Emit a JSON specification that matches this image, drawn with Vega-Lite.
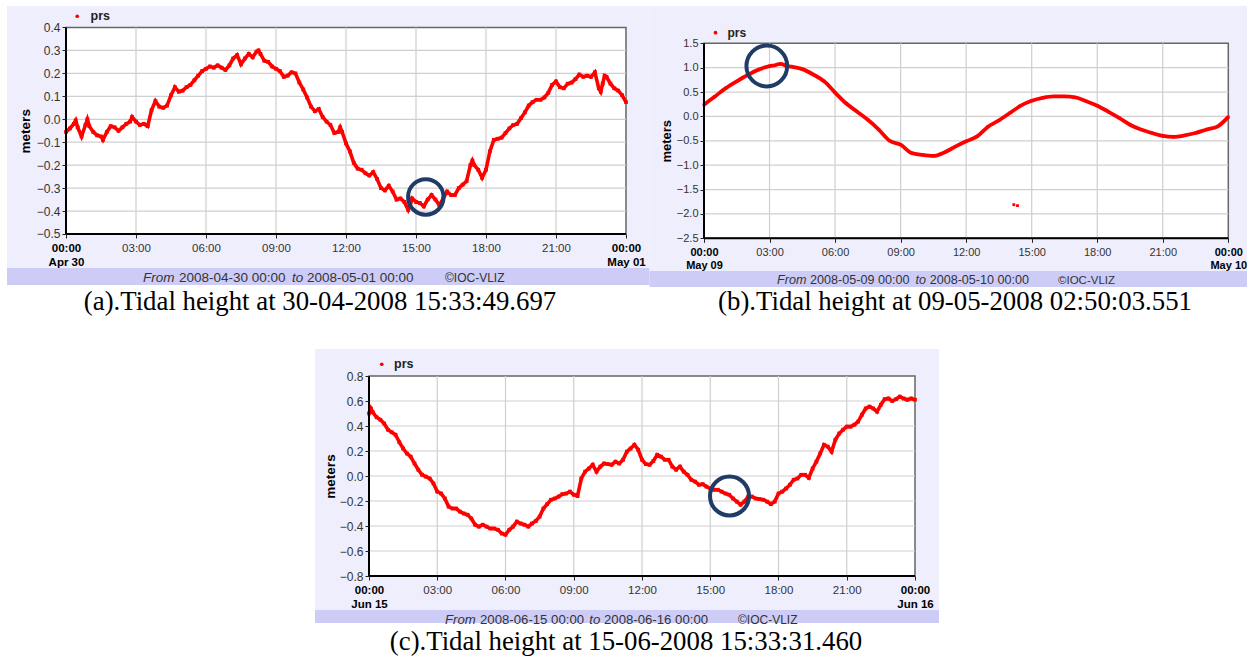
{
"$schema": "https://vega.github.io/schema/vega-lite/v6.json",
"width": 1253, "height": 659, "autosize": {"type": "none"}, "padding": 0, "background": "#ffffff",
"config": {"view": {"stroke": null}, "font": "Liberation Sans",
  "axis": {"labelFont": "Liberation Sans", "titleFont": "Liberation Sans", "tickColor": "#222222", "tickWidth": 1, "labelColor": "#333333", "domain": false, "grid": false, "labelOverlap": false, "labelFlush": false, "labelBound": false},
  "legend": {"labelFont": "Liberation Sans"}},
"datasets": {
 "xg": [{"g":180},{"g":360},{"g":540},{"g":720},{"g":900},{"g":1080},{"g":1260}],
 "ygA": [{"g":-0.4},{"g":-0.3},{"g":-0.2},{"g":-0.1},{"g":0},{"g":0.1},{"g":0.2},{"g":0.3}],
 "ygB": [{"g":-2},{"g":-1.5},{"g":-1},{"g":-0.5},{"g":0},{"g":0.5},{"g":1}],
 "ygC": [{"g":-0.6},{"g":-0.4},{"g":-0.2},{"g":0},{"g":0.2},{"g":0.4},{"g":0.6}],
 "a": [{"minute":0,"meters":-0.055},{"minute":10,"meters":-0.04},{"minute":20,"meters":-0.02},{"minute":25,"meters":-0.005},{"minute":30,"meters":-0.035},{"minute":40,"meters":-0.075},{"minute":50,"meters":-0.025},{"minute":55,"meters":0.0},{"minute":60,"meters":-0.03},{"minute":70,"meters":-0.055},{"minute":80,"meters":-0.07},{"minute":90,"meters":-0.075},{"minute":95,"meters":-0.09},{"minute":105,"meters":-0.055},{"minute":115,"meters":-0.03},{"minute":125,"meters":-0.035},{"minute":135,"meters":-0.05},{"minute":145,"meters":-0.035},{"minute":155,"meters":-0.02},{"minute":165,"meters":-0.01},{"minute":170,"meters":0.01},{"minute":180,"meters":-0.01},{"minute":190,"meters":-0.025},{"minute":200,"meters":-0.02},{"minute":210,"meters":-0.03},{"minute":220,"meters":0.04},{"minute":230,"meters":0.08},{"minute":240,"meters":0.055},{"minute":250,"meters":0.05},{"minute":260,"meters":0.06},{"minute":270,"meters":0.105},{"minute":280,"meters":0.14},{"minute":290,"meters":0.12},{"minute":300,"meters":0.125},{"minute":310,"meters":0.14},{"minute":320,"meters":0.15},{"minute":330,"meters":0.17},{"minute":340,"meters":0.19},{"minute":350,"meters":0.21},{"minute":360,"meters":0.22},{"minute":370,"meters":0.23},{"minute":380,"meters":0.225},{"minute":390,"meters":0.235},{"minute":400,"meters":0.225},{"minute":410,"meters":0.215},{"minute":420,"meters":0.235},{"minute":430,"meters":0.265},{"minute":440,"meters":0.28},{"minute":450,"meters":0.24},{"minute":460,"meters":0.265},{"minute":470,"meters":0.285},{"minute":480,"meters":0.27},{"minute":490,"meters":0.295},{"minute":495,"meters":0.3},{"minute":500,"meters":0.285},{"minute":510,"meters":0.255},{"minute":520,"meters":0.25},{"minute":530,"meters":0.23},{"minute":540,"meters":0.22},{"minute":550,"meters":0.21},{"minute":560,"meters":0.185},{"minute":570,"meters":0.19},{"minute":580,"meters":0.205},{"minute":590,"meters":0.2},{"minute":600,"meters":0.16},{"minute":610,"meters":0.13},{"minute":620,"meters":0.095},{"minute":630,"meters":0.055},{"minute":640,"meters":0.035},{"minute":650,"meters":0.045},{"minute":660,"meters":0.01},{"minute":670,"meters":-0.01},{"minute":680,"meters":-0.025},{"minute":690,"meters":-0.06},{"minute":700,"meters":-0.055},{"minute":705,"meters":-0.035},{"minute":710,"meters":-0.055},{"minute":720,"meters":-0.105},{"minute":730,"meters":-0.14},{"minute":740,"meters":-0.19},{"minute":750,"meters":-0.215},{"minute":760,"meters":-0.22},{"minute":770,"meters":-0.235},{"minute":780,"meters":-0.245},{"minute":790,"meters":-0.23},{"minute":800,"meters":-0.26},{"minute":810,"meters":-0.3},{"minute":820,"meters":-0.31},{"minute":830,"meters":-0.29},{"minute":840,"meters":-0.315},{"minute":850,"meters":-0.35},{"minute":860,"meters":-0.345},{"minute":870,"meters":-0.36},{"minute":880,"meters":-0.395},{"minute":885,"meters":-0.375},{"minute":890,"meters":-0.345},{"minute":900,"meters":-0.36},{"minute":910,"meters":-0.365},{"minute":920,"meters":-0.38},{"minute":930,"meters":-0.35},{"minute":940,"meters":-0.33},{"minute":950,"meters":-0.35},{"minute":960,"meters":-0.375},{"minute":970,"meters":-0.345},{"minute":980,"meters":-0.315},{"minute":990,"meters":-0.33},{"minute":1000,"meters":-0.33},{"minute":1010,"meters":-0.3},{"minute":1020,"meters":-0.285},{"minute":1030,"meters":-0.27},{"minute":1040,"meters":-0.2},{"minute":1045,"meters":-0.18},{"minute":1050,"meters":-0.2},{"minute":1060,"meters":-0.22},{"minute":1070,"meters":-0.255},{"minute":1080,"meters":-0.22},{"minute":1090,"meters":-0.14},{"minute":1100,"meters":-0.09},{"minute":1110,"meters":-0.085},{"minute":1120,"meters":-0.08},{"minute":1130,"meters":-0.06},{"minute":1140,"meters":-0.04},{"minute":1150,"meters":-0.025},{"minute":1160,"meters":-0.02},{"minute":1170,"meters":0.005},{"minute":1180,"meters":0.03},{"minute":1190,"meters":0.06},{"minute":1200,"meters":0.075},{"minute":1210,"meters":0.085},{"minute":1220,"meters":0.085},{"minute":1230,"meters":0.095},{"minute":1240,"meters":0.115},{"minute":1250,"meters":0.15},{"minute":1260,"meters":0.165},{"minute":1270,"meters":0.14},{"minute":1280,"meters":0.135},{"minute":1290,"meters":0.155},{"minute":1300,"meters":0.16},{"minute":1310,"meters":0.175},{"minute":1320,"meters":0.195},{"minute":1330,"meters":0.185},{"minute":1340,"meters":0.19},{"minute":1350,"meters":0.185},{"minute":1360,"meters":0.205},{"minute":1370,"meters":0.135},{"minute":1375,"meters":0.12},{"minute":1380,"meters":0.155},{"minute":1385,"meters":0.19},{"minute":1390,"meters":0.185},{"minute":1400,"meters":0.155},{"minute":1410,"meters":0.135},{"minute":1420,"meters":0.125},{"minute":1430,"meters":0.105},{"minute":1440,"meters":0.075}],
 "b": [{"minute":0,"meters":0.24},{"minute":30,"meters":0.41},{"minute":60,"meters":0.58},{"minute":90,"meters":0.72},{"minute":120,"meters":0.85},{"minute":150,"meters":0.96},{"minute":180,"meters":1.03},{"minute":195,"meters":1.05},{"minute":210,"meters":1.08},{"minute":225,"meters":1.04},{"minute":240,"meters":1.02},{"minute":270,"meters":0.97},{"minute":300,"meters":0.86},{"minute":330,"meters":0.72},{"minute":360,"meters":0.49},{"minute":390,"meters":0.27},{"minute":420,"meters":0.1},{"minute":450,"meters":-0.07},{"minute":480,"meters":-0.27},{"minute":510,"meters":-0.5},{"minute":540,"meters":-0.58},{"minute":570,"meters":-0.75},{"minute":600,"meters":-0.79},{"minute":630,"meters":-0.81},{"minute":660,"meters":-0.74},{"minute":690,"meters":-0.62},{"minute":720,"meters":-0.51},{"minute":750,"meters":-0.41},{"minute":780,"meters":-0.21},{"minute":810,"meters":-0.08},{"minute":840,"meters":0.07},{"minute":870,"meters":0.22},{"minute":900,"meters":0.32},{"minute":930,"meters":0.38},{"minute":960,"meters":0.41},{"minute":990,"meters":0.41},{"minute":1020,"meters":0.39},{"minute":1050,"meters":0.31},{"minute":1080,"meters":0.22},{"minute":1110,"meters":0.1},{"minute":1140,"meters":-0.03},{"minute":1170,"meters":-0.17},{"minute":1200,"meters":-0.27},{"minute":1230,"meters":-0.34},{"minute":1260,"meters":-0.4},{"minute":1290,"meters":-0.42},{"minute":1320,"meters":-0.39},{"minute":1350,"meters":-0.34},{"minute":1380,"meters":-0.27},{"minute":1410,"meters":-0.21},{"minute":1440,"meters":-0.01}],
 "bOut": [{"minute":851,"meters":-1.81},{"minute":861,"meters":-1.83}],
 "c": [{"minute":0,"meters":0.5},{"minute":5,"meters":0.54},{"minute":10,"meters":0.51},{"minute":20,"meters":0.47},{"minute":30,"meters":0.45},{"minute":40,"meters":0.42},{"minute":50,"meters":0.37},{"minute":60,"meters":0.35},{"minute":70,"meters":0.33},{"minute":80,"meters":0.27},{"minute":90,"meters":0.22},{"minute":100,"meters":0.18},{"minute":110,"meters":0.155},{"minute":120,"meters":0.1},{"minute":130,"meters":0.05},{"minute":140,"meters":0.01},{"minute":150,"meters":-0.005},{"minute":160,"meters":-0.02},{"minute":170,"meters":-0.06},{"minute":180,"meters":-0.125},{"minute":190,"meters":-0.14},{"minute":200,"meters":-0.18},{"minute":210,"meters":-0.245},{"minute":220,"meters":-0.26},{"minute":230,"meters":-0.26},{"minute":240,"meters":-0.285},{"minute":250,"meters":-0.3},{"minute":260,"meters":-0.31},{"minute":270,"meters":-0.34},{"minute":280,"meters":-0.39},{"minute":290,"meters":-0.405},{"minute":300,"meters":-0.39},{"minute":310,"meters":-0.405},{"minute":320,"meters":-0.42},{"minute":330,"meters":-0.42},{"minute":340,"meters":-0.43},{"minute":350,"meters":-0.46},{"minute":360,"meters":-0.47},{"minute":370,"meters":-0.43},{"minute":380,"meters":-0.405},{"minute":390,"meters":-0.365},{"minute":400,"meters":-0.38},{"minute":410,"meters":-0.39},{"minute":420,"meters":-0.405},{"minute":430,"meters":-0.38},{"minute":440,"meters":-0.36},{"minute":450,"meters":-0.325},{"minute":460,"meters":-0.26},{"minute":470,"meters":-0.225},{"minute":480,"meters":-0.19},{"minute":490,"meters":-0.18},{"minute":500,"meters":-0.165},{"minute":510,"meters":-0.145},{"minute":520,"meters":-0.14},{"minute":530,"meters":-0.125},{"minute":540,"meters":-0.15},{"minute":550,"meters":-0.16},{"minute":560,"meters":-0.02},{"minute":570,"meters":0.035},{"minute":580,"meters":0.06},{"minute":590,"meters":0.09},{"minute":600,"meters":0.035},{"minute":610,"meters":0.075},{"minute":620,"meters":0.1},{"minute":630,"meters":0.095},{"minute":640,"meters":0.09},{"minute":650,"meters":0.115},{"minute":660,"meters":0.1},{"minute":670,"meters":0.13},{"minute":680,"meters":0.195},{"minute":690,"meters":0.22},{"minute":700,"meters":0.25},{"minute":710,"meters":0.21},{"minute":720,"meters":0.13},{"minute":730,"meters":0.095},{"minute":740,"meters":0.09},{"minute":750,"meters":0.12},{"minute":760,"meters":0.17},{"minute":770,"meters":0.155},{"minute":780,"meters":0.13},{"minute":790,"meters":0.13},{"minute":800,"meters":0.075},{"minute":810,"meters":0.05},{"minute":820,"meters":0.075},{"minute":830,"meters":0.035},{"minute":840,"meters":0.01},{"minute":850,"meters":-0.03},{"minute":860,"meters":-0.045},{"minute":870,"meters":-0.07},{"minute":880,"meters":-0.065},{"minute":890,"meters":-0.085},{"minute":900,"meters":-0.1},{"minute":910,"meters":-0.11},{"minute":920,"meters":-0.11},{"minute":930,"meters":-0.125},{"minute":940,"meters":-0.14},{"minute":950,"meters":-0.15},{"minute":960,"meters":-0.18},{"minute":970,"meters":-0.205},{"minute":980,"meters":-0.23},{"minute":990,"meters":-0.205},{"minute":1000,"meters":-0.165},{"minute":1010,"meters":-0.165},{"minute":1020,"meters":-0.18},{"minute":1030,"meters":-0.185},{"minute":1040,"meters":-0.19},{"minute":1050,"meters":-0.205},{"minute":1060,"meters":-0.225},{"minute":1070,"meters":-0.205},{"minute":1080,"meters":-0.14},{"minute":1090,"meters":-0.125},{"minute":1100,"meters":-0.1},{"minute":1110,"meters":-0.07},{"minute":1120,"meters":-0.03},{"minute":1130,"meters":-0.02},{"minute":1140,"meters":0.01},{"minute":1150,"meters":0.01},{"minute":1160,"meters":-0.015},{"minute":1170,"meters":0.06},{"minute":1180,"meters":0.115},{"minute":1190,"meters":0.18},{"minute":1200,"meters":0.25},{"minute":1210,"meters":0.235},{"minute":1220,"meters":0.195},{"minute":1230,"meters":0.29},{"minute":1240,"meters":0.34},{"minute":1250,"meters":0.37},{"minute":1260,"meters":0.395},{"minute":1270,"meters":0.395},{"minute":1280,"meters":0.41},{"minute":1290,"meters":0.435},{"minute":1300,"meters":0.49},{"minute":1310,"meters":0.54},{"minute":1320,"meters":0.555},{"minute":1330,"meters":0.54},{"minute":1340,"meters":0.515},{"minute":1350,"meters":0.57},{"minute":1360,"meters":0.615},{"minute":1370,"meters":0.62},{"minute":1380,"meters":0.6},{"minute":1390,"meters":0.615},{"minute":1400,"meters":0.635},{"minute":1410,"meters":0.62},{"minute":1420,"meters":0.61},{"minute":1430,"meters":0.62},{"minute":1440,"meters":0.61}]
},
"layer": [
 {"layer": [
  {"data": {"values": [{}]}, "mark": {"type": "rect", "fill": "#eeeefc"}, "encoding": {"x": {"datum": -151.71, "type": "quantitative", "scale": {"domain": [-169.714, 3052.286], "nice": false, "zero": false}}, "x2": {"datum": 1500.43}, "y": {"datum": 0.4937, "type": "quantitative", "scale": {"domain": [-2.3523, 0.51985], "nice": false, "zero": false}}, "y2": {"datum": -0.72228}}},
  {"data": {"values": [{}]}, "mark": {"type": "rect", "fill": "#ccccf7"}, "encoding": {"x": {"datum": -151.71, "type": "quantitative"}, "x2": {"datum": 1500.43}, "y": {"datum": -0.64819, "type": "quantitative"}, "y2": {"datum": -0.72228}}},
  {"data": {"values": [{}]}, "mark": {"type": "rect", "fill": "#ffffff", "stroke": "#666666", "strokeWidth": 1.5}, "encoding": {"x": {"datum": 0, "type": "quantitative"}, "x2": {"datum": 1440}, "y": {"datum": -0.5, "type": "quantitative"}, "y2": {"datum": 0.4}}},
  {"data": {"name": "xg"}, "mark": {"type": "rule", "color": "#cfcfcf", "strokeWidth": 1.2}, "encoding": {"x": {"field": "g", "type": "quantitative"}, "y": {"datum": -0.5, "type": "quantitative"}, "y2": {"datum": 0.4}}},
  {"data": {"name": "ygA"}, "mark": {"type": "rule", "color": "#cfcfcf", "strokeWidth": 1.2}, "encoding": {"y": {"field": "g", "type": "quantitative"}, "x": {"datum": 0, "type": "quantitative"}, "x2": {"datum": 1440}}},
  {"data": {"name": "a"}, "mark": {"type": "line", "color": "#ff0000", "strokeWidth": 3.6}, "encoding": {"x": {"field": "minute", "type": "quantitative"}, "y": {"field": "meters", "type": "quantitative"}}},
  {"data": {"name": "a"}, "mark": {"type": "point", "shape": "square", "filled": true, "size": 14, "opacity": 1}, "encoding": {
    "x": {"field": "minute", "type": "quantitative", "scale": {"domain": [-169.714, 3052.286], "nice": false, "zero": false}, "axis": {"zindex": 2, "orient": "bottom", "offset": -425, "values": [0,180,360,540,720,900,1080,1260,1440], "title": null, "labelExpr": "datum.value == 0 ? ['00:00', 'Apr 30'] : datum.value == 1440 ? ['00:00', 'May 01'] : (datum.value < 600 ? '0' : '') + datum.value / 60 + ':00'", "labelFontWeight": {"condition": {"test": "datum.value == 0 || datum.value == 1440", "value": "bold"}, "value": "normal"}, "labelColor": {"condition": {"test": "datum.value == 0 || datum.value == 1440", "value": "#000000"}, "value": "#333333"}, "labelFontSize": 11.5, "labelLineHeight": 14, "tickSize": 4, "labelPadding": 4}},
    "y": {"field": "meters", "type": "quantitative", "scale": {"domain": [-2.3523, 0.51985], "nice": false, "zero": false}, "axis": {"zindex": 2, "orient": "left", "offset": -66, "values": [-0.5,-0.4,-0.3,-0.2,-0.1,0,0.1,0.2,0.3,0.4], "format": ".1f", "title": "meters", "titleX": -41, "titleY": 130.75, "titleAngle": 270, "titleAlign": "center", "titleBaseline": "middle", "titleFontWeight": "bold", "titleFontSize": 13.5, "titleColor": "#000000", "labelFontSize": 12, "tickSize": 4, "labelPadding": 2}},
    "color": {"datum": "prs", "type": "nominal", "scale": {"range": ["#ff0000"]}, "legend": {"orient": "none", "legendX": 71, "legendY": 10, "title": null, "padding": 0, "symbolType": "circle", "symbolSize": 14, "symbolStrokeWidth": 0, "symbolFillColor": "#ff0000", "labelFontWeight": "bold", "labelFontSize": 12.5, "labelColor": "#222222", "labelOffset": 7}}}},
  {"data": {"values": [{}]}, "mark": {"type": "rule", "color": "#000000", "strokeWidth": 2}, "encoding": {"x": {"datum": 0, "type": "quantitative"}, "y": {"datum": -0.5, "type": "quantitative"}, "y2": {"datum": 0.4}}},
  {"data": {"values": [{}]}, "mark": {"type": "rule", "color": "#000000", "strokeWidth": 2}, "encoding": {"y": {"datum": -0.5, "type": "quantitative"}, "x": {"datum": 0, "type": "quantitative"}, "x2": {"datum": 1440}}},
  {"data": {"values": [{}]}, "mark": {"type": "point", "shape": "circle", "filled": false, "color": "#1f3b66", "strokeWidth": 4, "size": 1257, "opacity": 1}, "encoding": {"x": {"datum": 925.2, "type": "quantitative"}, "y": {"datum": -0.33874, "type": "quantitative"}}},
  {"data": {"values": [{}]}, "mark": {"type": "text", "text": "From", "fontStyle": "italic", "fontSize": 13.5, "align": "left", "baseline": "alphabetic", "color": "#333333"}, "encoding": {"x": {"datum": 198.0, "type": "quantitative"}, "y": {"datum": -0.71138, "type": "quantitative"}}},
  {"data": {"values": [{}]}, "mark": {"type": "text", "text": "2008-04-30 00:00", "fontSize": 13.5, "align": "left", "baseline": "alphabetic", "color": "#333333"}, "encoding": {"x": {"datum": 290.57, "type": "quantitative"}, "y": {"datum": -0.71138, "type": "quantitative"}}},
  {"data": {"values": [{}]}, "mark": {"type": "text", "text": "to", "fontStyle": "italic", "fontSize": 13.5, "align": "left", "baseline": "alphabetic", "color": "#333333"}, "encoding": {"x": {"datum": 581.14, "type": "quantitative"}, "y": {"datum": -0.71138, "type": "quantitative"}}},
  {"data": {"values": [{}]}, "mark": {"type": "text", "text": "2008-05-01 00:00", "fontSize": 13.5, "align": "left", "baseline": "alphabetic", "color": "#333333"}, "encoding": {"x": {"datum": 619.7, "type": "quantitative"}, "y": {"datum": -0.71138, "type": "quantitative"}}},
  {"data": {"values": [{}]}, "mark": {"type": "text", "text": "©IOC-VLIZ", "fontSize": 12, "align": "left", "baseline": "alphabetic", "color": "#333333"}, "encoding": {"x": {"datum": 974.57, "type": "quantitative"}, "y": {"datum": -0.71138, "type": "quantitative"}}},
  {"data": {"values": [{}]}, "mark": {"type": "text", "text": "(a).Tidal height at 30-04-2008  15:33:49.697", "font": "Liberation Serif", "fontSize": 26.8, "align": "center", "baseline": "alphabetic", "color": "#000000"}, "encoding": {"x": {"datum": 653.14, "type": "quantitative"}, "y": {"datum": -0.83123, "type": "quantitative"}}}
 ]},
 {"layer": [
  {"data": {"values": [{}]}, "mark": {"type": "rect", "fill": "#eeeefc"}, "encoding": {"x": {"datum": -149.685, "type": "quantitative", "scale": {"domain": [-1933.549, 1507.838], "nice": false, "zero": false}}, "x2": {"datum": 1491.359}, "y": {"datum": 2.26513, "type": "quantitative", "scale": {"domain": [-11.12974, 2.38821], "nice": false, "zero": false}}, "y2": {"datum": -3.49897}}},
  {"data": {"values": [{}]}, "mark": {"type": "rect", "fill": "#ccccf7"}, "encoding": {"x": {"datum": -149.685, "type": "quantitative"}, "x2": {"datum": 1491.359}, "y": {"datum": -3.17077, "type": "quantitative"}, "y2": {"datum": -3.49897}}},
  {"data": {"values": [{}]}, "mark": {"type": "rect", "fill": "#ffffff", "stroke": "#666666", "strokeWidth": 1.5}, "encoding": {"x": {"datum": 0, "type": "quantitative"}, "x2": {"datum": 1440}, "y": {"datum": -2.5, "type": "quantitative"}, "y2": {"datum": 1.5}}},
  {"data": {"name": "xg"}, "mark": {"type": "rule", "color": "#cfcfcf", "strokeWidth": 1.2}, "encoding": {"x": {"field": "g", "type": "quantitative"}, "y": {"datum": -2.5, "type": "quantitative"}, "y2": {"datum": 1.5}}},
  {"data": {"name": "ygB"}, "mark": {"type": "rule", "color": "#cfcfcf", "strokeWidth": 1.2}, "encoding": {"y": {"field": "g", "type": "quantitative"}, "x": {"datum": 0, "type": "quantitative"}, "x2": {"datum": 1440}}},
  {"data": {"name": "b"}, "mark": {"type": "line", "color": "#ff0000", "strokeWidth": 3.8, "interpolate": "monotone"}, "encoding": {"x": {"field": "minute", "type": "quantitative"}, "y": {"field": "meters", "type": "quantitative"}}},
  {"data": {"name": "bOut"}, "mark": {"type": "point", "shape": "square", "filled": true, "size": 8, "opacity": 1, "color": "#ff0000"}, "encoding": {"x": {"field": "minute", "type": "quantitative"}, "y": {"field": "meters", "type": "quantitative"}}},
  {"data": {"name": "b"}, "mark": {"type": "point", "shape": "square", "filled": true, "size": 8, "opacity": 1}, "encoding": {
    "x": {"field": "minute", "type": "quantitative", "scale": {"domain": [-1933.549, 1507.838], "nice": false, "zero": false}, "axis": {"zindex": 2, "orient": "bottom", "offset": -420.7, "values": [0,180,360,540,720,900,1080,1260,1440], "title": null, "labelExpr": "datum.value == 0 ? ['00:00', 'May 09'] : datum.value == 1440 ? ['00:00', 'May 10'] : (datum.value < 600 ? '0' : '') + datum.value / 60 + ':00'", "labelFontWeight": {"condition": {"test": "datum.value == 0 || datum.value == 1440", "value": "bold"}, "value": "normal"}, "labelColor": {"condition": {"test": "datum.value == 0 || datum.value == 1440", "value": "#000000"}, "value": "#333333"}, "labelFontSize": 11, "labelLineHeight": 13, "tickSize": 4, "labelPadding": 4}},
    "y": {"field": "meters", "type": "quantitative", "scale": {"domain": [-11.12974, 2.38821], "nice": false, "zero": false}, "axis": {"zindex": 2, "orient": "left", "offset": -704, "values": [-2.5,-2,-1.5,-1,-0.5,0,0.5,1,1.5], "format": ".1f", "title": "meters", "titleX": -37.3, "titleY": 140.8, "titleAngle": 270, "titleAlign": "center", "titleBaseline": "middle", "titleFontWeight": "bold", "titleFontSize": 13, "titleColor": "#000000", "labelFontSize": 11, "tickSize": 4, "labelPadding": 2}},
    "color": {"datum": "prs", "type": "nominal", "scale": {"range": ["#ff0000"]}, "legend": {"orient": "none", "legendX": 709.5, "legendY": 26.7, "title": null, "padding": 0, "symbolType": "circle", "symbolSize": 14, "symbolStrokeWidth": 0, "symbolFillColor": "#ff0000", "labelFontWeight": "bold", "labelFontSize": 12, "labelColor": "#222222", "labelOffset": 6}}}},
  {"data": {"values": [{}]}, "mark": {"type": "rule", "color": "#000000", "strokeWidth": 2}, "encoding": {"x": {"datum": 0, "type": "quantitative"}, "y": {"datum": -2.5, "type": "quantitative"}, "y2": {"datum": 1.5}}},
  {"data": {"values": [{}]}, "mark": {"type": "rule", "color": "#000000", "strokeWidth": 2}, "encoding": {"y": {"datum": -2.5, "type": "quantitative"}, "x": {"datum": 0, "type": "quantitative"}, "x2": {"datum": 1440}}},
  {"data": {"values": [{}]}, "mark": {"type": "point", "shape": "circle", "filled": false, "color": "#1f3b66", "strokeWidth": 4, "size": 1662, "opacity": 1}, "encoding": {"x": {"datum": 172.5, "type": "quantitative"}, "y": {"datum": 1.03436, "type": "quantitative"}}},
  {"data": {"values": [{}]}, "mark": {"type": "text", "text": "From", "fontStyle": "italic", "fontSize": 12.6, "align": "left", "baseline": "alphabetic", "color": "#333333"}, "encoding": {"x": {"datum": 200.5, "type": "quantitative"}, "y": {"datum": -3.43744, "type": "quantitative"}}},
  {"data": {"values": [{}]}, "mark": {"type": "text", "text": "2008-05-09 00:00", "fontSize": 12.6, "align": "left", "baseline": "alphabetic", "color": "#333333"}, "encoding": {"x": {"datum": 291.13, "type": "quantitative"}, "y": {"datum": -3.43744, "type": "quantitative"}}},
  {"data": {"values": [{}]}, "mark": {"type": "text", "text": "to", "fontStyle": "italic", "fontSize": 12.6, "align": "left", "baseline": "alphabetic", "color": "#333333"}, "encoding": {"x": {"datum": 581.1, "type": "quantitative"}, "y": {"datum": -3.43744, "type": "quantitative"}}},
  {"data": {"values": [{}]}, "mark": {"type": "text", "text": "2008-05-10 00:00", "fontSize": 12.6, "align": "left", "baseline": "alphabetic", "color": "#333333"}, "encoding": {"x": {"datum": 619.7, "type": "quantitative"}, "y": {"datum": -3.43744, "type": "quantitative"}}},
  {"data": {"values": [{}]}, "mark": {"type": "text", "text": "©IOC-VLIZ", "fontSize": 11.5, "align": "left", "baseline": "alphabetic", "color": "#333333"}, "encoding": {"x": {"datum": 972.27, "type": "quantitative"}, "y": {"datum": -3.43744, "type": "quantitative"}}},
  {"data": {"values": [{}]}, "mark": {"type": "text", "text": "(b).Tidal height at 09-05-2008 02:50:03.551", "font": "Liberation Serif", "fontSize": 26.8, "align": "center", "baseline": "alphabetic", "color": "#000000"}, "encoding": {"x": {"datum": 689.38, "type": "quantitative"}, "y": {"datum": -3.97077, "type": "quantitative"}}}
 ]},
 {"layer": [
  {"data": {"values": [{}]}, "mark": {"type": "rect", "fill": "#eeeefc"}, "encoding": {"x": {"datum": -142.418, "type": "quantitative", "scale": {"domain": [-973.187, 2331.429], "nice": false, "zero": false}}, "x2": {"datum": 1503.297}, "y": {"datum": 1.016, "type": "quantitative", "scale": {"domain": [-1.464, 3.808], "nice": false, "zero": false}}, "y2": {"datum": -1.176}}},
  {"data": {"values": [{}]}, "mark": {"type": "rect", "fill": "#ccccf7"}, "encoding": {"x": {"datum": -142.418, "type": "quantitative"}, "x2": {"datum": 1503.297}, "y": {"datum": -1.072, "type": "quantitative"}, "y2": {"datum": -1.176}}},
  {"data": {"values": [{}]}, "mark": {"type": "rect", "fill": "#ffffff", "stroke": "#666666", "strokeWidth": 1.5}, "encoding": {"x": {"datum": 0, "type": "quantitative"}, "x2": {"datum": 1440}, "y": {"datum": -0.8, "type": "quantitative"}, "y2": {"datum": 0.8}}},
  {"data": {"name": "xg"}, "mark": {"type": "rule", "color": "#cfcfcf", "strokeWidth": 1.2}, "encoding": {"x": {"field": "g", "type": "quantitative"}, "y": {"datum": -0.8, "type": "quantitative"}, "y2": {"datum": 0.8}}},
  {"data": {"name": "ygC"}, "mark": {"type": "rule", "color": "#cfcfcf", "strokeWidth": 1.2}, "encoding": {"y": {"field": "g", "type": "quantitative"}, "x": {"datum": 0, "type": "quantitative"}, "x2": {"datum": 1440}}},
  {"data": {"name": "c"}, "mark": {"type": "line", "color": "#ff0000", "strokeWidth": 3.6}, "encoding": {"x": {"field": "minute", "type": "quantitative"}, "y": {"field": "meters", "type": "quantitative"}}},
  {"data": {"name": "c"}, "mark": {"type": "point", "shape": "square", "filled": true, "size": 14, "opacity": 1}, "encoding": {
    "x": {"field": "minute", "type": "quantitative", "scale": {"domain": [-973.187, 2331.429], "nice": false, "zero": false}, "axis": {"zindex": 2, "orient": "bottom", "offset": -83, "values": [0,180,360,540,720,900,1080,1260,1440], "title": null, "labelExpr": "datum.value == 0 ? ['00:00', 'Jun 15'] : datum.value == 1440 ? ['00:00', 'Jun 16'] : (datum.value < 600 ? '0' : '') + datum.value / 60 + ':00'", "labelFontWeight": {"condition": {"test": "datum.value == 0 || datum.value == 1440", "value": "bold"}, "value": "normal"}, "labelColor": {"condition": {"test": "datum.value == 0 || datum.value == 1440", "value": "#000000"}, "value": "#333333"}, "labelFontSize": 11.5, "labelLineHeight": 14, "tickSize": 4, "labelPadding": 4}},
    "y": {"field": "meters", "type": "quantitative", "scale": {"domain": [-1.464, 3.808], "nice": false, "zero": false}, "axis": {"zindex": 2, "orient": "left", "offset": -369, "values": [-0.8,-0.6,-0.4,-0.2,0,0.2,0.4,0.6,0.8], "format": ".1f", "title": "meters", "titleX": -39, "titleY": 476, "titleAngle": 270, "titleAlign": "center", "titleBaseline": "middle", "titleFontWeight": "bold", "titleFontSize": 13.5, "titleColor": "#000000", "labelFontSize": 12, "tickSize": 4, "labelPadding": 2}},
    "color": {"datum": "prs", "type": "nominal", "scale": {"range": ["#ff0000"]}, "legend": {"orient": "none", "legendX": 375.5, "legendY": 358, "title": null, "padding": 0, "symbolType": "circle", "symbolSize": 14, "symbolStrokeWidth": 0, "symbolFillColor": "#ff0000", "labelFontWeight": "bold", "labelFontSize": 12.5, "labelColor": "#222222", "labelOffset": 6}}}},
  {"data": {"values": [{}]}, "mark": {"type": "rule", "color": "#000000", "strokeWidth": 2}, "encoding": {"x": {"datum": 0, "type": "quantitative"}, "y": {"datum": -0.8, "type": "quantitative"}, "y2": {"datum": 0.8}}},
  {"data": {"values": [{}]}, "mark": {"type": "rule", "color": "#000000", "strokeWidth": 2}, "encoding": {"y": {"datum": -0.8, "type": "quantitative"}, "x": {"datum": 0, "type": "quantitative"}, "x2": {"datum": 1440}}},
  {"data": {"values": [{}]}, "mark": {"type": "point", "shape": "circle", "filled": false, "color": "#1f3b66", "strokeWidth": 4, "size": 1520, "opacity": 1}, "encoding": {"x": {"datum": 950.8, "type": "quantitative"}, "y": {"datum": -0.16, "type": "quantitative"}}},
  {"data": {"values": [{}]}, "mark": {"type": "text", "text": "From", "fontStyle": "italic", "fontSize": 13.2, "align": "left", "baseline": "alphabetic", "color": "#333333"}, "encoding": {"x": {"datum": 200.44, "type": "quantitative"}, "y": {"datum": -1.18, "type": "quantitative"}}},
  {"data": {"values": [{}]}, "mark": {"type": "text", "text": "2008-06-15 00:00", "fontSize": 13.2, "align": "left", "baseline": "alphabetic", "color": "#333333"}, "encoding": {"x": {"datum": 292.75, "type": "quantitative"}, "y": {"datum": -1.18, "type": "quantitative"}}},
  {"data": {"values": [{}]}, "mark": {"type": "text", "text": "to", "fontStyle": "italic", "fontSize": 13.2, "align": "left", "baseline": "alphabetic", "color": "#333333"}, "encoding": {"x": {"datum": 581.1, "type": "quantitative"}, "y": {"datum": -1.18, "type": "quantitative"}}},
  {"data": {"values": [{}]}, "mark": {"type": "text", "text": "2008-06-16 00:00", "fontSize": 13.2, "align": "left", "baseline": "alphabetic", "color": "#333333"}, "encoding": {"x": {"datum": 619.7, "type": "quantitative"}, "y": {"datum": -1.18, "type": "quantitative"}}},
  {"data": {"values": [{}]}, "mark": {"type": "text", "text": "©IOC-VLIZ", "fontSize": 12, "align": "left", "baseline": "alphabetic", "color": "#333333"}, "encoding": {"x": {"datum": 973.19, "type": "quantitative"}, "y": {"datum": -1.18, "type": "quantitative"}}},
  {"data": {"values": [{}]}, "mark": {"type": "text", "text": "(c).Tidal height at 15-06-2008 15:33:31.460", "font": "Liberation Serif", "fontSize": 26.8, "align": "center", "baseline": "alphabetic", "color": "#000000"}, "encoding": {"x": {"datum": 677.8, "type": "quantitative"}, "y": {"datum": -1.392, "type": "quantitative"}}}
 ]}
],
"resolve": {"scale": {"x": "independent", "y": "independent", "color": "independent"}, "axis": {"x": "independent", "y": "independent"}, "legend": {"color": "independent"}}
}
